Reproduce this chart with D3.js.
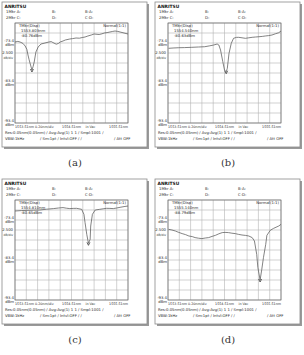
<!DOCTYPE html>
<html><head><meta charset="utf-8">
<script src="https://cdn.jsdelivr.net/npm/d3@7"></script>
<style>html,body{margin:0;padding:0;background:#fff}svg{display:block}</style>
</head><body>
<svg id="c" width="304" height="355"></svg>
<script>
// ---- data ----
const panelIds = ["a", "b", "c", "d"];
const xTickLabels = ["1553.51nm", "0.20nm/div", "1554.51nm", "in Vac", "1555.51nm"];
const yTickLabels = ["-73.4", "-83.4", "-93.4"];
const yTickValues = [-73.4, -83.4, -93.4];
const scaleLabel = "2.500";
const xDomain = [1553.51, 1555.51];
const yDomain = [-68.4, -93.4];

const aNm = [1553.51,1553.56,1553.60,1553.65,1553.69,1553.72,1553.74,1553.76,1553.78,1553.81,1553.83,1553.85,1553.88,1553.92,1553.97,1554.04,1554.11,1554.15,1554.18,1554.24,1554.28,1554.31,1554.36,1554.40,1554.48,1554.53,1554.59,1554.65,1554.70,1554.75,1554.80,1554.86,1554.91,1555.00,1555.05,1555.09,1555.14,1555.19,1555.24,1555.28,1555.33,1555.37,1555.44,1555.51];
const aDb = [-73.15,-73.0,-73.15,-73.5,-74.15,-75.0,-76.4,-77.6,-78.65,-80.15,-79.3,-78.15,-75.65,-74.4,-73.65,-73.4,-73.15,-73.05,-73.28,-73.7,-73.5,-73.15,-72.9,-72.65,-72.4,-72.3,-72.15,-72.2,-72.03,-71.9,-71.65,-71.4,-71.15,-71.28,-71.1,-70.9,-70.8,-70.65,-70.5,-70.4,-70.5,-70.65,-70.9,-71.15];

const bNm = [1553.52,1553.60,1553.70,1553.80,1553.93,1554.05,1554.16,1554.25,1554.32,1554.38,1554.41,1554.44,1554.48,1554.51,1554.54,1554.56,1554.59,1554.63,1554.67,1554.72,1554.76,1554.82,1554.88,1554.94,1555.00,1555.06,1555.12,1555.18,1555.23,1555.29,1555.35,1555.41,1555.47,1555.51];
const bDb = [-74.73,-74.65,-74.58,-74.55,-74.48,-74.4,-74.33,-74.1,-73.9,-73.65,-73.9,-75.15,-78.08,-80.15,-80.58,-79.73,-75.98,-73.48,-72.23,-72.0,-71.98,-72.1,-72.23,-72.1,-71.98,-71.9,-71.83,-71.75,-71.65,-71.55,-71.4,-71.1,-70.83,-70.4];

const cNm = [1553.51,1553.62,1553.72,1553.84,1553.95,1554.07,1554.19,1554.28,1554.36,1554.42,1554.48,1554.54,1554.60,1554.69,1554.73,1554.75,1554.78,1554.81,1554.84,1554.85,1554.88,1554.93,1555.01,1555.07,1555.13,1555.19,1555.25,1555.31,1555.37,1555.44,1555.51];
const cDb = [-71.15,-71.05,-70.98,-70.95,-70.9,-70.7,-70.55,-70.4,-70.3,-70.45,-70.55,-70.5,-70.48,-70.73,-71.98,-74.05,-76.98,-79.23,-78.23,-74.9,-71.98,-70.9,-70.73,-70.6,-70.48,-70.5,-70.55,-70.4,-70.23,-70.05,-69.9];

const dNm = [1553.52,1553.58,1553.64,1553.70,1553.76,1553.82,1553.88,1553.94,1553.99,1554.05,1554.11,1554.17,1554.23,1554.29,1554.35,1554.41,1554.47,1554.52,1554.58,1554.64,1554.70,1554.76,1554.82,1554.88,1554.94,1555.00,1555.04,1555.08,1555.10,1555.14,1555.17,1555.20,1555.24,1555.26,1555.32,1555.38,1555.47,1555.51];
const dDb = [-75.73,-75.9,-76.15,-76.5,-76.8,-77.05,-77.4,-77.55,-77.8,-77.95,-78.05,-77.9,-77.8,-77.5,-77.23,-76.85,-76.55,-76.5,-76.55,-76.7,-76.8,-77.0,-77.15,-77.25,-77.4,-77.8,-78.65,-81.98,-85.23,-88.4,-85.73,-82.73,-79.48,-77.23,-75.98,-75.48,-74.9,-74.48];

const markerNm = ["1553.803nm", "1554.540nm", "1554.810nm", "1555.140nm"];
const markerDb = ["-80.76dBm", "-80.63dBm", "-80.65dBm", "-88.79dBm"];
const headerRow1 = ["1Mkr A:", "B:", "B-A:"];
const headerRow2 = ["2Mkr C:", "D:", "C-D:"];
const footer1 = "Res:0.05nm(0.05nm) / Avg:Avg(1)  1   1 / Smpl:1001 /";
const footer2a = "VBW:1kHz";
const footer2b = "/ Sm:1pt / Intvl:OFF /     /";
const footer2c = "/ Att OFF";
const captions = ["(a)", "(b)", "(c)", "(d)"];

const traces = [[aNm, aDb], [bNm, bDb], [cNm, cDb], [dNm, dDb]];

// ---- layout ----
const frames = [
  {x: 2, y: 2}, {x: 155, y: 2}, {x: 2, y: 179}, {x: 155, y: 179}
];
const FW = 145, FH = 145;
const GL = 13, GT = 21, GW = 113, GH = 100;
const svg = d3.select("#c");
const font = "DejaVu Sans";

frames.forEach((f, i) => {
  const g = svg.append("g").attr("transform", `translate(${f.x},${f.y})`);
  // shadow
  g.append("rect").attr("x", 2).attr("y", 2).attr("width", FW).attr("height", FH).attr("fill", "#9a9a9a");
  g.append("rect").attr("x", 0).attr("y", 0).attr("width", FW).attr("height", FH)
    .attr("fill", "#fff").attr("stroke", "#8a8a8a").attr("stroke-width", 0.8);

  const t = (x, y, s, opt = {}) => g.append("text").attr("x", x).attr("y", y).text(s)
    .attr("font-family", font).attr("font-size", opt.size || 3.8)
    .attr("font-weight", opt.bold ? "bold" : "normal")
    .attr("text-anchor", opt.anchor || "start").attr("fill", opt.fill || "#2a2a2a");

  t(2.5, 5.8, "ANRITSU", {bold: true, size: 4.4, fill: "#111"});
  t(4, 11, headerRow1[0]); t(50, 11, headerRow1[1]); t(83, 11, headerRow1[2]);
  t(4, 16.5, headerRow2[0]); t(50, 16.5, headerRow2[1]); t(83, 16.5, headerRow2[2]);

  const x = d3.scaleLinear().domain(xDomain).range([GL, GL + GW]);
  const y = d3.scaleLinear().domain(yDomain).range([GT, GT + GH]);

  const grid = g.append("g");
  d3.range(11).forEach(k => {
    const xv = xDomain[0] + k * (xDomain[1] - xDomain[0]) / 10;
    grid.append("line").attr("x1", x(xv)).attr("x2", x(xv)).attr("y1", GT).attr("y2", GT + GH)
      .attr("stroke", "#b4b4b4").attr("stroke-width", 0.6);
    const yv = yDomain[0] + k * (yDomain[1] - yDomain[0]) / 10;
    grid.append("line").attr("x1", GL).attr("x2", GL + GW).attr("y1", y(yv)).attr("y2", y(yv))
      .attr("stroke", "#b4b4b4").attr("stroke-width", 0.6);
  });
  grid.append("rect").attr("x", GL).attr("y", GT).attr("width", GW).attr("height", GH)
    .attr("fill", "none").attr("stroke", "#6a6a6a").attr("stroke-width", 0.7);

  // y labels
  yTickValues.forEach((v, k) => {
    t(GL - 1, y(v) - 1.5, yTickLabels[k], {anchor: "end"});
    t(GL - 1, y(v) + 2.8, "dBm", {anchor: "end"});
  });
  t(GL - 2, y(-76.4) - 1, scaleLabel, {anchor: "end"});
  t(GL - 2, y(-76.4) + 3.5, "dB/div", {anchor: "end", size: 3});

  // x labels
  const xs = 3.3;
  const ly = GT + GH + 5;
  t(x(xDomain[0]), ly, xTickLabels[0], {size: xs});
  t(x(xDomain[0]) + 20, ly, xTickLabels[1], {size: xs});
  t(x(1554.51), ly, xTickLabels[2], {size: xs, anchor: "middle"});
  t(x(1554.51) + 19, ly, xTickLabels[3], {size: xs, anchor: "middle"});
  t(x(xDomain[1]), ly, xTickLabels[4], {size: xs, anchor: "end"});
  t(3, GT + GH + 11, footer1);
  t(3, GT + GH + 17, footer2a);
  t(38, GT + GH + 17, footer2b);
  t(GL + GW - 14, GT + GH + 17, footer2c);

  // trace
  const [nm, db] = traces[i];
  const pts = nm.map((v, k) => [v, db[k]]);
  g.append("path").datum(pts)
    .attr("d", d3.line().x(d => x(d[0])).y(d => y(d[1])))
    .attr("fill", "none").attr("stroke", "#5a5a5a").attr("stroke-width", 0.75);

  // marker at minimum
  const mi = d3.minIndex(db);
  const mx = x(nm[mi]), my = y(db[mi]);
  g.append("path").attr("d", `M${mx - 1.5},${my - 1}L${mx},${my + 2}L${mx + 1.5},${my - 1}`)
    .attr("fill", "none").attr("stroke", "#222").attr("stroke-width", 0.7);

  // in-grid texts
  t(GL + 4, GT + 3.5, "TMkr(Disp)");
  t(GL + 6, GT + 8.5, markerNm[i]);
  t(GL + 6, GT + 13.5, markerDb[i]);
  t(GL + GW - 2, GT + 3.5, "Normal(1:1)", {anchor: "end"});

  // caption
  svg.append("text").attr("x", f.x + 73).attr("y", f.y + FH + 19).text(captions[i])
    .attr("font-family", "DejaVu Serif").attr("font-size", 10).attr("text-anchor", "middle").attr("fill", "#333");
});
</script>
</body></html>
